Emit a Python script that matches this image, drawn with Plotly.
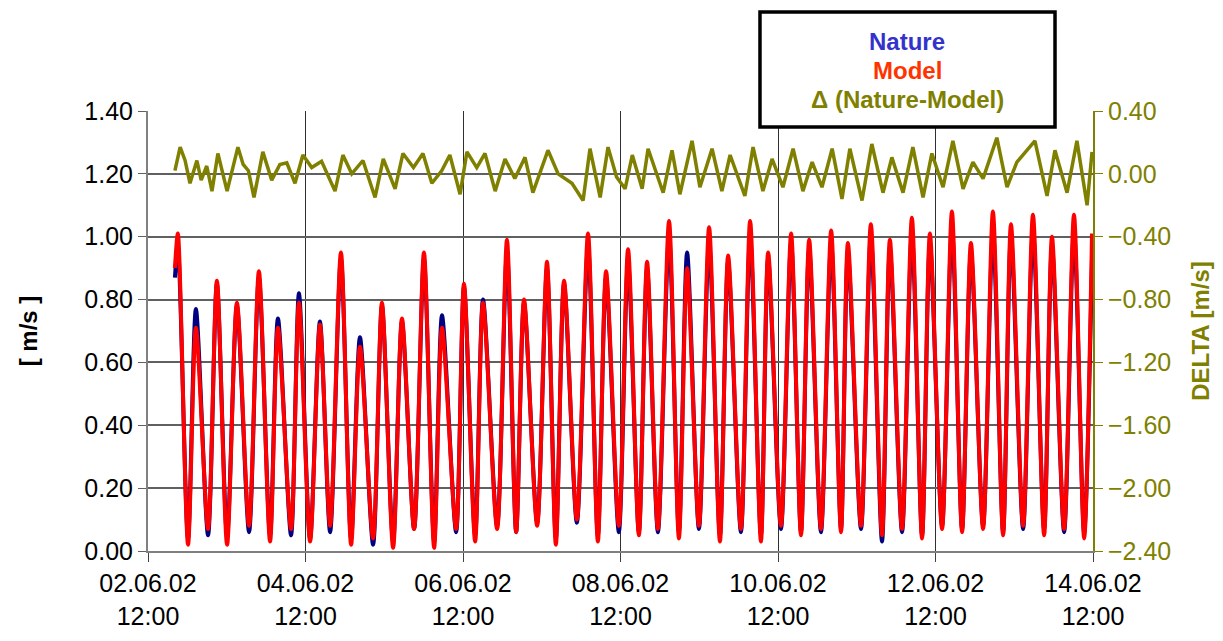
import pandas as pd
import plotly.graph_objects as go

# ---------------- data ----------------
START = "2002-06-02 12:00"

# hours after START of the peaks / troughs of current speed
tide_hours = [8.2, 9.1, 12.2, 14.6, 18.3, 21.0, 24.1, 27.1, 30.8, 33.8, 37.2, 39.6, 43.6, 46.0,
              49.4, 52.4, 55.5, 58.8, 61.9, 64.6, 68.6, 71.3, 74.7, 77.4, 81.1, 84.1, 87.2, 89.6,
              93.9, 96.3, 99.7, 102.1, 106.4, 109.4, 112.2, 114.6, 118.6, 121.6, 124.3, 126.8,
              130.7, 134.1, 137.1, 139.6, 143.5, 146.3, 149.6, 152.1, 155.4, 158.8, 161.8, 164.3,
              167.9, 171.0, 174.3, 176.8, 180.7, 183.5, 186.8, 189.0, 192.9, 196.0, 199.0, 201.5,
              205.1, 208.2, 211.2, 213.3, 217.3, 220.3, 223.7, 226.1, 229.8, 232.8, 235.9, 238.3,
              242.0, 245.0, 248.1, 250.8, 254.5, 257.5, 260.6, 263.0, 266.7, 269.7, 273.1, 275.5,
              279.2, 282.2, 285.3, 287.7]

model_speed = [0.90, 1.01, 0.02, 0.71, 0.07, 0.86, 0.02, 0.79, 0.08, 0.89,
               0.03, 0.71, 0.07, 0.79, 0.03, 0.72, 0.08, 0.95, 0.02, 0.65,
               0.04, 0.79, 0.01, 0.74, 0.07, 0.95, 0.01, 0.71, 0.07, 0.85,
               0.03, 0.79, 0.07, 0.99, 0.06, 0.80, 0.08, 0.92, 0.02, 0.86,
               0.10, 1.01, 0.03, 0.89, 0.08, 0.96, 0.05, 0.92, 0.07, 1.05,
               0.04, 0.90, 0.08, 1.03, 0.03, 0.94, 0.07, 1.05, 0.03, 0.95,
               0.08, 1.01, 0.05, 0.99, 0.07, 1.02, 0.06, 0.98, 0.08, 1.04,
               0.05, 0.99, 0.07, 1.06, 0.04, 1.01, 0.07, 1.08, 0.06, 0.98,
               0.07, 1.08, 0.05, 1.04, 0.08, 1.07, 0.05, 1.00, 0.07, 1.07,
               0.04, 1.01]

nature_speed = [0.87, 0.97, 0.04, 0.77, 0.05, 0.85, 0.05, 0.78, 0.06, 0.87,
                0.05, 0.74, 0.05, 0.82, 0.04, 0.73, 0.06, 0.93, 0.04, 0.68,
                0.02, 0.78, 0.03, 0.73, 0.07, 0.93, 0.03, 0.75, 0.06, 0.84,
                0.05, 0.80, 0.08, 0.95, 0.06, 0.79, 0.09, 0.90, 0.04, 0.85,
                0.09, 0.97, 0.05, 0.87, 0.06, 0.92, 0.06, 0.90, 0.06, 1.00,
                0.06, 0.95, 0.07, 0.98, 0.05, 0.92, 0.06, 1.00, 0.05, 0.93,
                0.07, 0.98, 0.06, 0.96, 0.06, 0.98, 0.07, 0.95, 0.07, 1.00,
                0.03, 0.96, 0.06, 1.01, 0.05, 0.98, 0.08, 1.03, 0.07, 0.95,
                0.08, 1.02, 0.06, 1.00, 0.07, 1.02, 0.07, 0.97, 0.06, 1.02,
                0.06, 0.93]

delta_hours = [8.2, 9.8, 11.3, 12.8, 14.9, 16.2, 17.9, 19.5, 21.3, 22.9, 24.1, 27.4, 29.0, 30.6,
               32.3, 35.0, 37.7, 40.2, 42.3, 44.8, 47.2, 49.9, 52.9, 57.0, 59.4, 62.1, 65.5, 69.2,
               71.7, 75.3, 77.7, 80.9, 83.8, 86.5, 89.5, 92.0, 95.1, 97.2, 100.2, 102.7, 105.8,
               108.8, 111.8, 114.9, 117.3, 121.9, 125.0, 129.2, 132.6, 134.7, 137.8, 140.2, 142.8,
               145.4, 147.6, 150.6, 152.4, 157.0, 159.7, 162.1, 165.8, 168.2, 171.9, 174.9, 177.4,
               181.9, 184.4, 187.4, 190.2, 193.5, 196.6, 199.6, 202.4, 205.4, 208.5, 211.5, 213.9,
               217.6, 220.6, 224.0, 226.7, 230.1, 233.1, 236.2, 238.9, 242.3, 245.3, 248.4, 251.4,
               254.5, 258.7, 261.8, 264.8, 270.3, 274.0, 276.4, 280.1, 283.1, 286.2, 287.7]

delta = [0.02, 0.17, 0.085, -0.06, 0.085, -0.04, 0.05, -0.11, 0.13, 0.0, -0.11, 0.17, 0.06, 0.02,
         -0.15, 0.14, -0.04, 0.06, 0.07, -0.06, 0.12, 0.04, 0.08, -0.11, 0.12, 0.0, 0.085, -0.15,
         0.095, -0.095, 0.13, 0.04, 0.13, -0.06, 0.02, 0.12, -0.13, 0.14, 0.04, 0.13, -0.11,
         0.095, -0.03, 0.105, -0.12, 0.15, 0.0, -0.06, -0.17, 0.16, -0.15, 0.17, -0.02,
         -0.095, 0.12, -0.095, 0.16, -0.12, 0.15, -0.13, 0.21, -0.085, 0.16, -0.11, 0.12,
         -0.14, 0.17, -0.11, 0.095, -0.085, 0.16, -0.11, 0.075, -0.085, 0.16, -0.16, 0.16,
         -0.17, 0.19, -0.12, 0.105, -0.12, 0.17, -0.15, 0.13, -0.085, 0.21, -0.095, 0.075,
         -0.03, 0.23, -0.085, 0.075, 0.21, -0.14, 0.15, -0.12, 0.21, -0.20, 0.14]

x_range = ["2002-06-02 12:00", "2002-06-14 12:00"]
left_ticks = [0.0, 0.2, 0.4, 0.6, 0.8, 1.0, 1.2, 1.4]
right_ticks = [-2.4, -2.0, -1.6, -1.2, -0.8, -0.4, 0.0, 0.4]

# ---------------- figure ----------------
t0 = pd.Timestamp(START)
tide_t = t0 + pd.to_timedelta(tide_hours, unit="h")
delta_t = t0 + pd.to_timedelta(delta_hours, unit="h")

NAVY = "#000080"
RED = "#FF0000"
OLIVE = "#808000"
FONT = "Liberation Sans, Arial, sans-serif"
TICK = 25

fig = go.Figure()
fig.add_trace(go.Scatter(x=tide_t, y=nature_speed, mode="lines", name="Nature",
                         line=dict(color=NAVY, width=4, shape="spline", smoothing=0.8)))
fig.add_trace(go.Scatter(x=tide_t, y=model_speed, mode="lines", name="Model",
                         line=dict(color=RED, width=4, shape="spline", smoothing=0.8)))
fig.add_trace(go.Scatter(x=delta_t, y=delta, mode="lines", name="Δ (Nature-Model)",
                         yaxis="y2", line=dict(color=OLIVE, width=3.5)))

fig.update_layout(
    width=1223, height=641, autosize=False,
    margin=dict(l=148, r=130, t=111, b=90),
    paper_bgcolor="white", plot_bgcolor="white",
    showlegend=False,
    font=dict(family=FONT, size=TICK, color="black"),
    xaxis=dict(
        type="date", range=x_range, automargin=False,
        tick0=x_range[0], dtick=2 * 86400000,
        tickformat="%d.%m.%y<br>%H:%M",
        showgrid=True, gridcolor="#303030", gridwidth=1.3,
        showline=True, linecolor="#808080", linewidth=2,
        ticks="outside", ticklen=9, tickcolor="#404040", tickwidth=1.3,
        tickfont=dict(size=TICK), zeroline=False,
    ),
    yaxis=dict(
        range=[0, 1.4], tickvals=left_ticks, tickformat=".2f", automargin=False,
        showgrid=True, gridcolor="#606060", gridwidth=1.6,
        showline=True, linecolor="#808080", linewidth=2,
        ticks="outside", ticklen=8, tickcolor="#606060",
        tickfont=dict(size=TICK), zeroline=False,
        title=dict(text="<b>[ m/s ]</b>", font=dict(size=24), standoff=40),
    ),
    yaxis2=dict(
        range=[-2.4, 0.4], tickvals=right_ticks, tickformat=".2f", automargin=False,
        overlaying="y", side="right", showgrid=False, zeroline=False,
        showline=True, linecolor=OLIVE, linewidth=2,
        ticks="outside", ticklen=8, tickcolor=OLIVE,
        tickfont=dict(size=TICK, color=OLIVE),
        title=dict(text="<b>DELTA [m/s]</b>", font=dict(size=24, color=OLIVE), standoff=22),
    ),
)

# legend box (drawn as text, like the original)
fig.add_shape(type="rect", xref="paper", yref="paper",
              x0=0.6476, x1=0.9598, y0=0.9636, y1=1.225,
              line=dict(color="black", width=3.5), fillcolor="white", layer="above")
legend_items = [("Nature", "#3333CC", 1.157), ("Model", "#FF3300", 1.093),
                ("Δ (Nature-Model)", OLIVE, 1.027)]
for txt, col, yy in legend_items:
    fig.add_annotation(xref="paper", yref="paper", x=0.8037, y=yy, text=f"<b>{txt}</b>",
                       showarrow=False, font=dict(size=24, color=col), xanchor="center",
                       yanchor="middle")

fig.write_html("out.html", config={"displayModeBar": False},
               post_script="document.body.style.margin='0';")
